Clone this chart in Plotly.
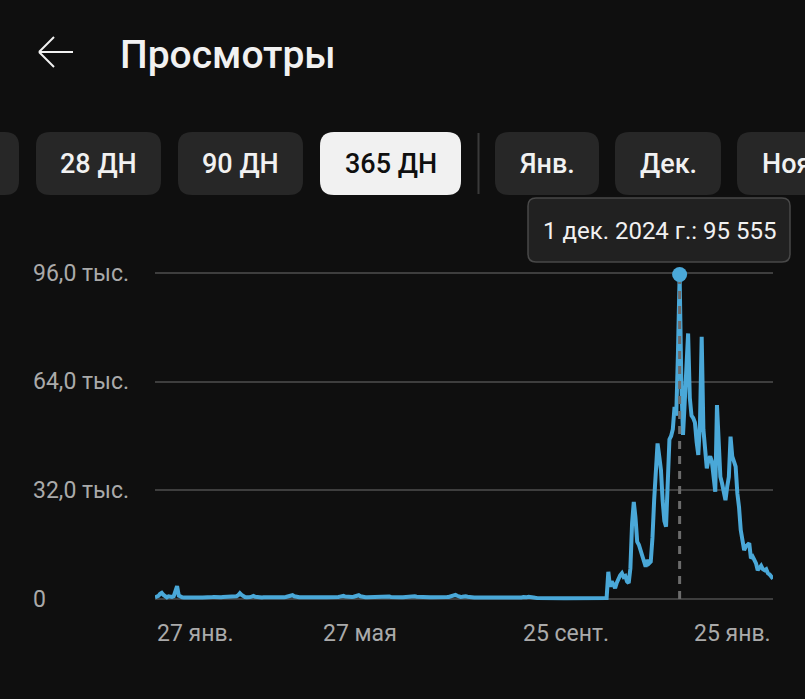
import plotly.graph_objects as go
import pandas as pd

# ---------------- data ----------------
START_DATE = "2024-01-27"

flat_views = [
    500, 700, 900, 1500, 1800, 1200, 700, 500, 800, 700,
    600, 800, 2200, 3800, 1000, 600, 500, 450, 500, 480,
    450, 420, 500, 460, 440, 520, 480, 450, 430, 500,
    520, 480, 450, 500, 560, 600, 520, 480, 500, 550,
    600, 650, 550, 500, 520, 600, 650, 700, 800, 1100,
    1700, 1200, 700, 600, 550, 500, 600, 700, 900, 650,
    550, 500, 450, 480, 520, 500, 470, 450, 500, 520,
    480, 460, 500, 520, 480, 500, 550, 600, 700, 850,
    1000, 1100, 800, 600, 550, 500, 480, 500, 520, 490,
    470, 500, 520, 480, 460, 500, 530, 500, 480, 470,
    500, 480, 460, 500, 520, 500, 480, 520, 600, 700,
    850, 900, 700, 600, 550, 520, 560, 650, 800, 950,
    1100, 800, 600, 550, 500, 480, 500, 520, 500, 480,
    470, 500, 520, 550, 600, 700, 800, 900, 700, 600,
    550, 520, 500, 480, 500, 520, 550, 600, 650, 750,
    850, 950, 1000, 800, 650, 600, 580, 550, 520, 500,
    480, 500, 520, 500, 480, 470, 500, 520, 550, 600,
    580, 550, 560, 600, 700, 850, 1000, 1200, 950, 700,
    600, 650, 750, 800, 650, 550, 500, 480, 470, 460,
    450, 460, 450, 440, 450, 460, 450, 440, 430, 420,
    420, 410, 400, 410, 420, 400, 390, 380, 400, 410,
    400, 390, 380, 400, 420, 380, 450, 600, 450, 550,
    650, 500, 600, 450, 350, 300, 280, 260, 250, 250,
    250, 250, 250, 250, 250, 250, 250, 250, 250, 250,
    250, 250, 250, 250, 250, 250, 250, 250, 250, 250,
    250, 250, 250, 250, 250, 250, 250, 250, 250, 250,
    250, 250, 250, 250, 260, 280,
]

active_views = [
    300, 8000, 3600, 5200, 3800, 3200, 4800, 6000, 7000, 7600,
    6500, 6800, 5200, 4700, 9000, 22300, 28600, 24000, 16900, 16000,
    14500, 12500, 11000, 9500, 11500, 10500, 11000, 18000, 29100, 38000,
    45800, 42000, 38000, 29000, 23000, 21300, 35000, 47000, 48000, 50000,
    56600, 54000, 72000, 95555, 64000, 48300, 58000, 72000, 78200, 59200,
    54000, 53300, 52000, 46300, 42400, 52000, 77200, 50000, 45300, 38500,
    41000, 42000, 40500, 37000, 31600, 57100, 45000, 36000, 34000, 32000,
    29100, 33000, 36000, 47800, 42000, 40500, 39000, 31100, 27000, 20300,
    16500, 14400, 15500, 16000, 16400, 12000, 12500, 11500, 10500, 8500,
    9000, 9800, 8800, 8500, 8800, 7600, 7200, 6600, 6000,
]

views = flat_views + active_views
dates = pd.date_range(START_DATE, periods=len(views), freq="D")

y_tick_vals = [0, 32000, 64000, 96000]
y_tick_labels = ["0", "32,0 тыс.", "64,0 тыс.", "96,0 тыс."]

x_tick_dates = ["2024-01-27", "2024-05-27", "2024-09-25", "2025-01-25"]
x_tick_labels = ["27 янв.", "27 мая", "25 сент.", "25 янв."]
x_tick_anchor = ["left", "center", "center", "right"]

title_text = "Просмотры"
button_labels = ["", "28 ДН", "90 ДН", "365 ДН", "Янв.", "Дек.", "Нояб."]
selected_button = "365 ДН"
month_short = {1: "янв.", 2: "февр.", 3: "мар.", 4: "апр.", 5: "мая", 6: "июн.",
               7: "июл.", 8: "авг.", 9: "сент.", 10: "окт.", 11: "нояб.", 12: "дек."}

# ---------------- styling / layout ----------------
BG = "#0f0f0f"
LINE = "#4aa8d8"
GRID = "#3e3e3e"
TEXT = "#f1f1f1"
AXTEXT = "#aaaaaa"
BTN = "#272727"
FONT = "Roboto"

W, H = 805, 699
L, R, T, B = 155, 773, 262, 610   # plot area in pixels
PW, PH = R - L, B - T


def xp(px):
    return (px - L) / PW


def yp(py):
    return (B - py) / PH


def rrect_path(x0, y0, x1, y1, r):
    pts = [
        ("M", [(x0 + r, y0)]),
        ("L", [(x1 - r, y0)]),
        ("Q", [(x1, y0), (x1, y0 + r)]),
        ("L", [(x1, y1 - r)]),
        ("Q", [(x1, y1), (x1 - r, y1)]),
        ("L", [(x0 + r, y1)]),
        ("Q", [(x0, y1), (x0, y1 - r)]),
        ("L", [(x0, y0 + r)]),
        ("Q", [(x0, y0), (x0 + r, y0)]),
    ]
    s = ""
    for cmd, ps in pts:
        s += cmd + " " + " ".join(f"{xp(a):.5f},{yp(b):.5f}" for a, b in ps) + " "
    return s + "Z"


peak_idx = max(range(len(views)), key=lambda i: views[i])
peak_date = dates[peak_idx]
peak_val = views[peak_idx]
tooltip_text = f"{peak_date.day} {month_short[peak_date.month]} {peak_date.year} г.: {peak_val:,}".replace(",", " ")

fig = go.Figure()
fig.add_trace(go.Scatter(x=dates, y=views, mode="lines",
                         line=dict(color=LINE, width=4), hoverinfo="skip"))
fig.add_trace(go.Scatter(x=[peak_date, peak_date], y=[0, peak_val], mode="lines",
                         line=dict(color="#6c6c6c", width=3, dash="8px,7px"), hoverinfo="skip"))
fig.add_trace(go.Scatter(x=[peak_date], y=[peak_val], mode="markers",
                         marker=dict(color=LINE, size=15), hoverinfo="skip", cliponaxis=False))

shapes = []
annotations = []

# header arrow
for (ax0, ay0, ax1, ay1) in [(39, 52, 73, 52), (39, 52, 54, 37), (39, 52, 54, 67)]:
    shapes.append(dict(type="line", xref="paper", yref="paper",
                       x0=xp(ax0), y0=yp(ay0), x1=xp(ax1), y1=yp(ay1),
                       line=dict(color=TEXT, width=2)))

annotations.append(dict(text=title_text, xref="paper", yref="paper",
                        x=xp(118), y=yp(55), xanchor="left", yanchor="middle",
                        showarrow=False, font=dict(family=FONT, size=39, color=TEXT, weight=500)))

# buttons
btn_boxes = [(-30, 19), (36, 161), (178, 303), (320, 461), (495, 599), (615, 721), (737, 860)]
for lab, (bx0, bx1) in zip(button_labels, btn_boxes):
    sel = lab == selected_button
    shapes.append(dict(type="path", xref="paper", yref="paper",
                       path=rrect_path(bx0, 132, bx1, 195, 14),
                       fillcolor="#f1f1f1" if sel else BTN, line=dict(width=0)))
    if lab:
        cx = (bx0 + bx1) / 2 if bx1 < W else 760
        annotations.append(dict(text=lab, xref="paper", yref="paper",
                                x=xp(cx), y=yp(164),
                                xanchor="center" if bx1 < W else "left", yanchor="middle",
                                showarrow=False,
                                font=dict(family=FONT, size=27, color=BG if sel else TEXT, weight=500)))
# separator
shapes.append(dict(type="line", xref="paper", yref="paper",
                   x0=xp(478.5), x1=xp(478.5), y0=yp(133), y1=yp(194),
                   line=dict(color="#3a3a3a", width=2)))

# tooltip
shapes.append(dict(type="path", xref="paper", yref="paper",
                   path=rrect_path(528, 198, 790, 262, 8),
                   fillcolor="#212121", line=dict(color="#484848", width=1.5)))
annotations.append(dict(text=tooltip_text, xref="paper", yref="paper",
                        x=xp(659), y=yp(231), xanchor="center", yanchor="middle",
                        showarrow=False, font=dict(family=FONT, size=24, color=TEXT)))

# y tick labels
for v, t in zip(y_tick_vals, y_tick_labels):
    annotations.append(dict(text=t, xref="paper", yref="y", x=xp(31), y=v,
                            xanchor="left", yanchor="middle", showarrow=False,
                            font=dict(family=FONT, size=23, color=AXTEXT)))
# x tick labels
for d, t, a in zip(x_tick_dates, x_tick_labels, x_tick_anchor):
    annotations.append(dict(text=t, xref="x", yref="paper", x=d, y=yp(633),
                            xanchor=a, yanchor="middle", showarrow=False,
                            font=dict(family=FONT, size=23, color=AXTEXT)))

px_per_unit = (599 - 273) / 96000
y_lo = -(B - 599) / px_per_unit
y_hi = (599 - T) / px_per_unit

fig.update_layout(
    width=W, height=H,
    margin=dict(l=L, r=W - R, t=T, b=H - B, pad=0),
    paper_bgcolor=BG, plot_bgcolor=BG,
    showlegend=False, hovermode=False,
    shapes=shapes, annotations=annotations,
    xaxis=dict(type="date", range=[dates[0], dates[-1]], showgrid=False,
               showticklabels=False, zeroline=False, showline=False, ticks=""),
    yaxis=dict(range=[y_lo, y_hi], tickvals=y_tick_vals, showticklabels=False,
               showgrid=True, gridcolor=GRID, gridwidth=1.5,
               zeroline=True, zerolinecolor=GRID, zerolinewidth=1.5, showline=False, ticks=""),
)

fig.write_html("out.html", config={"displayModeBar": False},
               post_script="document.body.style.margin='0';document.body.style.overflow='hidden';document.body.style.background='#0f0f0f';")
